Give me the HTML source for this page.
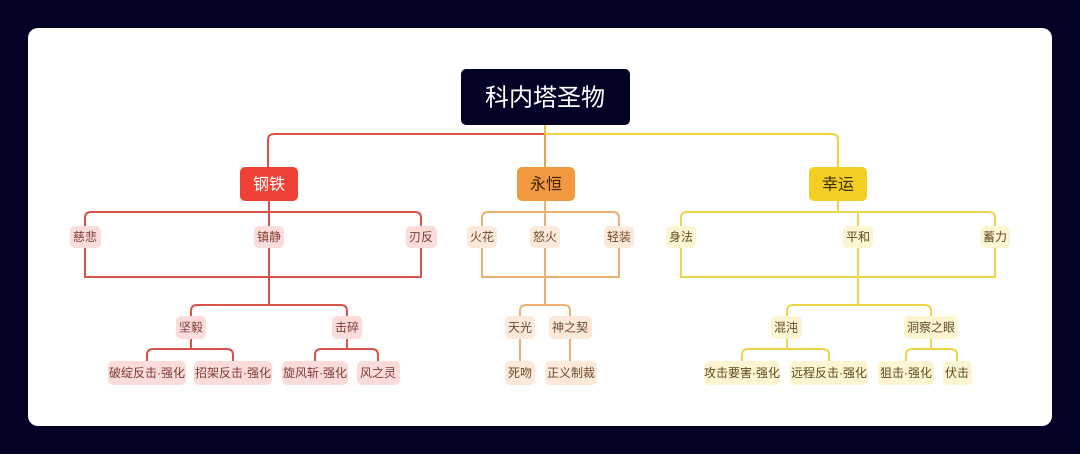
<!DOCTYPE html>
<html><head><meta charset="utf-8"><style>
html,body{margin:0;padding:0;background:#020226;}
svg{display:block;}
text{font-family:"Liberation Sans","Noto Sans CJK SC",sans-serif;text-anchor:middle;dominant-baseline:central;}
</style></head><body>
<svg width="1080" height="454" viewBox="0 0 1080 454" xmlns="http://www.w3.org/2000/svg">
<rect x="0" y="0" width="1080" height="454" fill="#020226"/>
<rect x="28" y="28" width="1024" height="398" rx="10" fill="#ffffff"/>

<g fill="none" stroke-width="2">
<!-- top bars -->
<path d="M545 125 V134 H274 Q268 134 268 140 V167" stroke="#e0534a"/>
<path d="M545 134 H832 Q838 134 838 140 V167" stroke="#f0d23a"/>
<path d="M545 125 V134" stroke="#eac040"/>
<path d="M545 134 V167" stroke="#eea050"/>

<!-- red -->
<g stroke="#d9534a">
<path d="M269 201 V212"/>
<path d="M85 226 V218 Q85 212 91 212 H415 Q421 212 421 218 V226"/>
<path d="M269 212 V226"/>
<path d="M85 248 V277 H421 V248"/>
<path d="M269 248 V305"/>
<path d="M191 316 V311 Q191 305 197 305 H341 Q347 305 347 311 V316"/>
<path d="M191 339 V349"/>
<path d="M147 361 V355 Q147 349 153 349 H227 Q233 349 233 355 V361"/>
<path d="M347 339 V349"/>
<path d="M315 361 V355 Q315 349 321 349 H372 Q378 349 378 355 V361"/>
</g>
<!-- orange -->
<g stroke="#eeb070">
<path d="M545 201 V226"/>
<path d="M482 226 V218 Q482 212 488 212 H613 Q619 212 619 218 V226"/>
<path d="M482 248 V277 H619 V248"/>
<path d="M545 248 V305"/>
<path d="M520 316 V311 Q520 305 526 305 H564 Q570 305 570 311 V316"/>
<path d="M520 339 V361"/>
<path d="M570 339 V361"/>
</g>
<!-- yellow -->
<g stroke="#eed54a">
<path d="M838 201 V212"/>
<path d="M681 226 V218 Q681 212 687 212 H989 Q995 212 995 218 V226"/>
<path d="M858 212 Q858 212 858 226"/>
<path d="M681 248 V277 H995 V248"/>
<path d="M858 248 V305"/>
<path d="M787 316 V311 Q787 305 793 305 H925 Q931 305 931 311 V316"/>
<path d="M787 339 V349"/>
<path d="M742 361 V355 Q742 349 748 349 H823 Q829 349 829 355 V361"/>
<path d="M931 339 V349"/>
<path d="M906 361 V355 Q906 349 912 349 H951 Q957 349 957 355 V361"/>
</g>
</g>

<!-- root -->
<rect x="461" y="69" width="169" height="56" rx="5" fill="#020226"/>
<text x="545" y="98" font-size="24" fill="#ffffff">科内塔圣物</text>

<!-- level 1 -->
<rect x="240" y="167" width="58" height="34" rx="5" fill="#ef4136"/>
<text x="269" y="185" font-size="16" fill="#ffffff">钢铁</text>
<rect x="517" y="167" width="58" height="34" rx="5" fill="#f39a40"/>
<text x="546" y="185" font-size="16" fill="#3a2010">永恒</text>
<rect x="809" y="167" width="58" height="34" rx="5" fill="#f2cf22"/>
<text x="838" y="185" font-size="16" fill="#3a3010">幸运</text>

<!-- red nodes -->
<g font-size="12" fill="#7a3a30">
<g fill="#fcdcdb">
<rect x="70" y="226" width="31" height="22" rx="5"/>
<rect x="254" y="226" width="30" height="22" rx="5"/>
<rect x="406" y="226" width="31" height="22" rx="5"/>
<rect x="176" y="316" width="30" height="23" rx="5"/>
<rect x="332" y="316" width="30" height="23" rx="5"/>
<rect x="108" y="361" width="78" height="24" rx="5"/>
<rect x="194" y="361" width="78" height="24" rx="5"/>
<rect x="282" y="361" width="66" height="24" rx="5"/>
<rect x="357" y="361" width="43" height="24" rx="5"/>
</g>
<text x="85" y="237">慈悲</text>
<text x="269" y="237">镇静</text>
<text x="421" y="237">刃反</text>
<text x="191" y="327.5">坚毅</text>
<text x="347" y="327.5">击碎</text>
<text x="147" y="373">破绽反击·强化</text>
<text x="233" y="373">招架反击·强化</text>
<text x="315" y="373">旋风斩·强化</text>
<text x="378" y="373">风之灵</text>
</g>

<!-- orange nodes -->
<g font-size="12" fill="#6a4a30">
<g fill="#fde9d9">
<rect x="467" y="226" width="30" height="22" rx="5"/>
<rect x="530" y="226" width="30" height="22" rx="5"/>
<rect x="604" y="226" width="30" height="22" rx="5"/>
<rect x="505" y="316" width="30" height="23" rx="5"/>
<rect x="549" y="316" width="43" height="23" rx="5"/>
<rect x="505" y="361" width="30" height="24" rx="5"/>
<rect x="545" y="361" width="52" height="24" rx="5"/>
</g>
<text x="482" y="237">火花</text>
<text x="545" y="237">怒火</text>
<text x="619" y="237">轻装</text>
<text x="520" y="327.5">天光</text>
<text x="570" y="327.5">神之契</text>
<text x="520" y="373">死吻</text>
<text x="571" y="373">正义制裁</text>
</g>

<!-- yellow nodes -->
<g font-size="12" fill="#5a4a20">
<g fill="#fdf5d2">
<rect x="666" y="226" width="30" height="22" rx="5"/>
<rect x="843" y="226" width="30" height="22" rx="5"/>
<rect x="980" y="226" width="30" height="22" rx="5"/>
<rect x="771" y="316" width="31" height="23" rx="5"/>
<rect x="904" y="316" width="54" height="23" rx="5"/>
<rect x="704" y="361" width="76" height="24" rx="5"/>
<rect x="790" y="361" width="78" height="24" rx="5"/>
<rect x="878" y="361" width="56" height="24" rx="5"/>
<rect x="943" y="361" width="29" height="24" rx="5"/>
</g>
<text x="681" y="237">身法</text>
<text x="858" y="237">平和</text>
<text x="995" y="237">蓄力</text>
<text x="786" y="327.5">混沌</text>
<text x="931" y="327.5">洞察之眼</text>
<text x="742" y="373">攻击要害·强化</text>
<text x="829" y="373">远程反击·强化</text>
<text x="906" y="373">狙击·强化</text>
<text x="957" y="373">伏击</text>
</g>
</svg>
</body></html>
